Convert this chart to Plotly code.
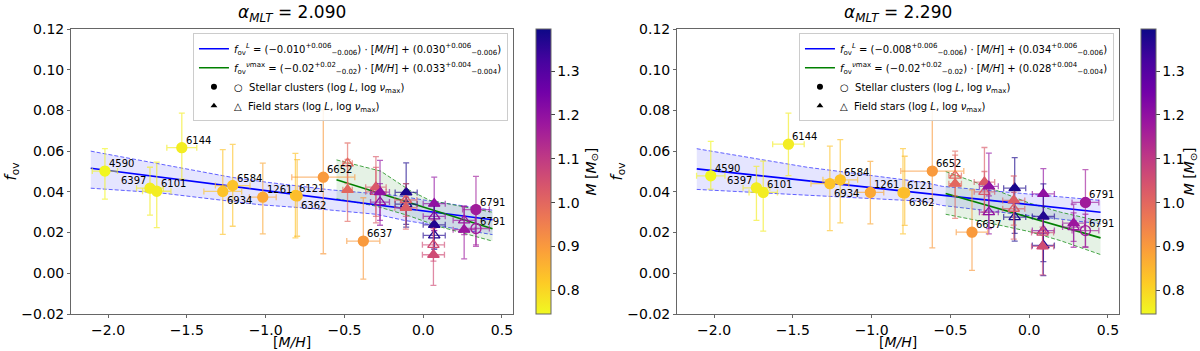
import plotly.graph_objects as go
import plotly.express as px
from plotly.colors import sample_colorscale

# mass colour scale
CMIN, CMAX = 0.746, 1.396
SCALE = px.colors.sequential.Plasma_r
MASS_TICKS = [0.8, 0.9, 1.0, 1.1, 1.2, 1.3]

TITLES = ["2.090", "2.290"]

# stellar clusters (log L, filled circles)
CL_NAMES = ["4590", "6397", "6101", "6144", "6934", "6584", "1261", "6121", "6362", "6652", "6637", "6791"]
CL_MASS = [0.75, 0.765, 0.765, 0.765, 0.83, 0.83, 0.875, 0.83, 0.84, 0.9, 0.9, 1.17]

L_CL_X = [-2.02, -1.734, -1.691, -1.532, -1.272, -1.209, -1.018, -0.811, -0.80, -0.634, -0.38, 0.335]
L_CL_Y = [0.0502, 0.0418, 0.0403, 0.0617, 0.0402, 0.0431, 0.0374, 0.0382, 0.0380, 0.0472, 0.0158, 0.0313]
L_CL_YP = [0.011, 0.0103, 0.0143, 0.017, 0.0205, 0.0202, 0.0167, 0.0207, 0.0178, 0.033, 0.0213, 0.0163]
L_CL_YM = [0.0138, 0.0132, 0.0179, 0.0155, 0.0211, 0.0200, 0.018, 0.0208, 0.0198, 0.0376, 0.0187, 0.0181]
L_CL_XERR = [0.08, 0.085, 0.09, 0.095, 0.12, 0.11, 0.085, 0.02, 0.02, 0.2, 0.105, 0.085]

R_CL_X = [-2.021, -1.731, -1.688, -1.528, -1.265, -1.199, -1.008, -0.801, -0.79, -0.615, -0.363, 0.357]
R_CL_Y = [0.0479, 0.042, 0.0397, 0.0634, 0.044, 0.0459, 0.0397, 0.0396, 0.0395, 0.0502, 0.0202, 0.0348]
R_CL_YP = [0.0169, 0.0105, 0.0154, 0.0153, 0.0185, 0.0198, 0.0153, 0.0216, 0.018, 0.032, 0.0208, 0.0161]
R_CL_YM = [0.0066, 0.016, 0.019, 0.0154, 0.023, 0.0211, 0.0154, 0.0202, 0.016, 0.0377, 0.0188, 0.022]
R_CL_XERR = [0.09, 0.085, 0.09, 0.1, 0.12, 0.11, 0.085, 0.02, 0.02, 0.2, 0.1, 0.085]

# NGC 6791 from nu_max (open circle)
OPEN_CL_NAME = "6791"
OPEN_CL_MASS = 1.17
L_OPEN_CL = (0.335, 0.022, 0.008)
R_OPEN_CL = (0.357, 0.021, 0.008)

# field stars (filled: log L, open: log nu_max)
FS_MASS = [1.00, 1.03, 1.20, 1.38, 1.02, 1.20, 1.37, 1.06, 1.18]

L_FS_X = [-0.48, -0.30, -0.274, -0.108, -0.11, 0.07, 0.07, 0.065, 0.26]
L_FS_Y = [0.041, 0.0423, 0.0399, 0.0397, 0.0322, 0.0342, 0.0238, 0.0091, 0.0214]
L_FS_YP = [0.015, 0.015, 0.0156, 0.0145, 0.0055, 0.013, 0.0105, 0.017, 0.0114]
L_FS_YM = [0.0155, 0.0175, 0.0163, 0.017, 0.0105, 0.0132, 0.012, 0.015, 0.0143]
L_FS_OPEN_Y = [0.054, 0.040, 0.035, 0.034, 0.036, 0.028, 0.0186, 0.014, 0.026]
L_FS_OPEN_ERR = [0.010, 0.012, 0.009, 0.010, 0.008, 0.007, 0.006, 0.008, 0.007]
L_FS_XERR = [0.03, 0.065, 0.06, 0.07, 0.07, 0.07, 0.07, 0.07, 0.07]

R_FS_X = [-0.47, -0.284, -0.256, -0.092, -0.098, 0.09, 0.09, 0.085, 0.282]
R_FS_Y = [0.044, 0.0448, 0.0427, 0.0418, 0.0358, 0.039, 0.0279, 0.0132, 0.0246]
R_FS_YP = [0.016, 0.017, 0.0163, 0.015, 0.012, 0.0124, 0.016, 0.0095, 0.0094]
R_FS_YM = [0.017, 0.016, 0.0233, 0.026, 0.019, 0.0114, 0.029, 0.014, 0.0118]
R_FS_OPEN_Y = [0.048, 0.040, 0.030, 0.0276, 0.0317, 0.021, 0.0137, 0.020, 0.0227]
R_FS_OPEN_ERR = [0.010, 0.010, 0.008, 0.008, 0.008, 0.007, 0.008, 0.008, 0.007]
R_FS_XERR = [0.04, 0.065, 0.06, 0.07, 0.07, 0.07, 0.07, 0.07, 0.07]

# fits and their bands
L_BLUE_X = [-2.11, 0.44]
L_BLUE_Y = [0.0516, 0.0263]
L_BLUE_UP_X = [-2.11, -1.22, -1.0, -0.59, -0.17, 0.02, 0.44]
L_BLUE_UP_Y = [0.060, 0.0472, 0.0448, 0.041, 0.0382, 0.0358, 0.031]
L_BLUE_LO_X = [-2.11, -1.67, -1.04, -0.65, -0.3, -0.12, 0.44]
L_BLUE_LO_Y = [0.0418, 0.0395, 0.0337, 0.0315, 0.029, 0.026, 0.019]
L_GREEN_X = [-0.55, 0.44]
L_GREEN_Y = [0.0459, 0.0219]
L_GREEN_UP_X = [-0.55, -0.27, -0.085, 0.043, 0.44]
L_GREEN_UP_Y = [0.0557, 0.0502, 0.0407, 0.0358, 0.030]
L_GREEN_LO_X = [-0.55, -0.3, -0.1, 0.1, 0.44]
L_GREEN_LO_Y = [0.0366, 0.033, 0.0285, 0.023, 0.0158]

R_BLUE_X = [-2.11, 0.453]
R_BLUE_Y = [0.0513, 0.030]
R_BLUE_UP_X = [-2.11, -1.41, -0.68, -0.55, 0.453]
R_BLUE_UP_Y = [0.0612, 0.0521, 0.0448, 0.0427, 0.0358]
R_BLUE_LO_X = [-2.11, -1.58, -0.68, -0.55, 0.453]
R_BLUE_LO_Y = [0.0412, 0.039, 0.0354, 0.0333, 0.0243]
R_GREEN_X = [-0.53, 0.453]
R_GREEN_Y = [0.0392, 0.0174]
R_GREEN_UP_X = [-0.53, -0.3, 0.0, 0.2, 0.453]
R_GREEN_UP_Y = [0.050, 0.0435, 0.0345, 0.030, 0.0255]
R_GREEN_LO_X = [-0.53, -0.3, 0.0, 0.2, 0.453]
R_GREEN_LO_Y = [0.029, 0.0255, 0.0205, 0.016, 0.0092]

FIT_L = ["(−0.010<sup>+0.006</sup><sub>−0.006</sub>) · [<i>M/H</i>] + (0.030<sup>+0.006</sup><sub>−0.006</sub>)",
         "(−0.008<sup>+0.006</sup><sub>−0.006</sub>) · [<i>M/H</i>] + (0.034<sup>+0.006</sup><sub>−0.006</sub>)"]
FIT_NU = ["(−0.02<sup>+0.02</sup><sub>−0.02</sub>) · [<i>M/H</i>] + (0.033<sup>+0.004</sup><sub>−0.004</sub>)",
          "(−0.02<sup>+0.02</sup><sub>−0.02</sub>) · [<i>M/H</i>] + (0.028<sup>+0.004</sup><sub>−0.004</sub>)"]

# label placement (xanchor, yanchor) per cluster
LABEL_POS = {"6397": ("right", "bottom"), "6934": ("left", "top"), "6362": ("left", "top")}

FONT = "DejaVu Sans, sans-serif"


def mass_color(m, alpha=None):
    c = sample_colorscale(SCALE, [(m - CMIN) / (CMAX - CMIN)])[0]
    if alpha is None:
        return c
    return c.replace("rgb(", "rgba(").replace(")", f", {alpha})")


def err_point(fig, x, y, yp, ym, xe, m, symbol, ax, size=10):
    ec = mass_color(m, 0.65)
    fig.add_trace(go.Scatter(
        x=[x], y=[y], mode="markers", xaxis=ax[0], yaxis=ax[1],
        marker=dict(size=size, color=mass_color(m), symbol=symbol, line=dict(width=1.3, color=mass_color(m))),
        error_y=dict(type="data", symmetric=False, array=[yp], arrayminus=[ym], color=ec, thickness=1.3, width=3),
        error_x=dict(type="data", array=[xe], color=ec, thickness=1.3, width=3),
        showlegend=False, hoverinfo="skip"))


def band(fig, ux, uy, lx, ly, fill, edge, ax):
    fig.add_trace(go.Scatter(x=ux + lx[::-1], y=uy + ly[::-1], fill="toself", fillcolor=fill,
                             mode="lines", line=dict(width=0), xaxis=ax[0], yaxis=ax[1],
                             showlegend=False, hoverinfo="skip"))
    for xs, ys in ((ux, uy), (lx, ly)):
        fig.add_trace(go.Scatter(x=xs, y=ys, mode="lines", line=dict(color=edge, width=1, dash="4px,2px"),
                                 xaxis=ax[0], yaxis=ax[1], showlegend=False, hoverinfo="skip"))


fig = go.Figure()

panels = [
    dict(ax=("x", "y"), leg="legend", cax="coloraxis",
         cl=(L_CL_X, L_CL_Y, L_CL_YP, L_CL_YM, L_CL_XERR), ocl=L_OPEN_CL,
         fs=(L_FS_X, L_FS_Y, L_FS_YP, L_FS_YM, L_FS_OPEN_Y, L_FS_OPEN_ERR, L_FS_XERR),
         blue=(L_BLUE_X, L_BLUE_Y, L_BLUE_UP_X, L_BLUE_UP_Y, L_BLUE_LO_X, L_BLUE_LO_Y),
         green=(L_GREEN_X, L_GREEN_Y, L_GREEN_UP_X, L_GREEN_UP_Y, L_GREEN_LO_X, L_GREEN_LO_Y)),
    dict(ax=("x2", "y2"), leg="legend2", cax="coloraxis2",
         cl=(R_CL_X, R_CL_Y, R_CL_YP, R_CL_YM, R_CL_XERR), ocl=R_OPEN_CL,
         fs=(R_FS_X, R_FS_Y, R_FS_YP, R_FS_YM, R_FS_OPEN_Y, R_FS_OPEN_ERR, R_FS_XERR),
         blue=(R_BLUE_X, R_BLUE_Y, R_BLUE_UP_X, R_BLUE_UP_Y, R_BLUE_LO_X, R_BLUE_LO_Y),
         green=(R_GREEN_X, R_GREEN_Y, R_GREEN_UP_X, R_GREEN_UP_Y, R_GREEN_LO_X, R_GREEN_LO_Y)),
]

annotations = []
for i, p in enumerate(panels):
    ax = p["ax"]
    bx, by, bux, buy, blx, bly = p["blue"]
    gx, gy, gux, guy, glx, gly = p["green"]
    band(fig, bux, buy, blx, bly, "rgba(0,0,255,0.1)", "rgba(70,70,255,0.85)", ax)
    band(fig, gux, guy, glx, gly, "rgba(0,128,0,0.1)", "rgba(40,150,40,0.85)", ax)
    fig.add_trace(go.Scatter(x=bx, y=by, mode="lines", line=dict(color="#0000ff", width=1.6),
                             xaxis=ax[0], yaxis=ax[1], legend=p["leg"],
                             name="<i>f</i><sub>ov</sub><sup><i>L</i></sup> = " + FIT_L[i]))
    fig.add_trace(go.Scatter(x=gx, y=gy, mode="lines", line=dict(color="#008000", width=1.6),
                             xaxis=ax[0], yaxis=ax[1], legend=p["leg"],
                             name="<i>f</i><sub>ov</sub><sup><i>ν</i>max</sup> = " + FIT_NU[i]))
    fig.add_trace(go.Scatter(x=[None], y=[None], mode="markers", legend=p["leg"], xaxis=ax[0], yaxis=ax[1],
                             marker=dict(symbol="circle", color="black", size=6),
                             name="○  Stellar clusters (log <i>L</i>, log <i>ν</i><sub>max</sub>)"))
    fig.add_trace(go.Scatter(x=[None], y=[None], mode="markers", legend=p["leg"], xaxis=ax[0], yaxis=ax[1],
                             marker=dict(symbol="triangle-up", color="black", size=6),
                             name="△  Field stars (log <i>L</i>, log <i>ν</i><sub>max</sub>)"))

    # field stars
    fx, fy, fyp, fym, foy, foe, fxe = p["fs"]
    for j in range(len(fx)):
        err_point(fig, fx[j], foy[j], foe[j], foe[j], fxe[j], FS_MASS[j], "triangle-up-open", ax)
        err_point(fig, fx[j], fy[j], fyp[j], fym[j], fxe[j], FS_MASS[j], "triangle-up", ax)

    # clusters
    cx, cy, cyp, cym, cxe = p["cl"]
    ox, oy, oe = p["ocl"]
    err_point(fig, ox, oy, oe, oe, cxe[-1], OPEN_CL_MASS, "circle-open", ax)
    for j in range(len(cx)):
        err_point(fig, cx[j], cy[j], cyp[j], cym[j], cxe[j], CL_MASS[j], "circle", ax)

    # colour-mapped markers carrying the colour bar
    fig.add_trace(go.Scatter(x=cx, y=cy, mode="markers", xaxis=ax[0], yaxis=ax[1], showlegend=False,
                             marker=dict(size=10, color=CL_MASS, coloraxis=p["cax"])))
    fig.add_trace(go.Scatter(x=fx, y=fy, mode="markers", xaxis=ax[0], yaxis=ax[1], showlegend=False,
                             marker=dict(size=10, symbol="triangle-up", color=FS_MASS, coloraxis=p["cax"])))

    # labels
    for j, name in enumerate(CL_NAMES):
        xa, ya = LABEL_POS.get(name, ("left", "bottom"))
        annotations.append(dict(x=cx[j], y=cy[j], xref=ax[0], yref=ax[1], text=name, showarrow=False,
                                xanchor=xa, yanchor=ya, xshift=2 if xa == "left" else -2,
                                yshift=-2 if ya == "top" else 0,
                                font=dict(size=10, color="black", family=FONT)))
    annotations.append(dict(x=ox, y=oy, xref=ax[0], yref=ax[1], text=OPEN_CL_NAME, showarrow=False,
                            xanchor="left", yanchor="bottom", xshift=2,
                            font=dict(size=10, color="black", family=FONT)))

# panel geometry (paper coordinates)
X_DOM = [[0.0592, 0.4275], [0.5642, 0.9325]]
X_RANGE = [[-2.235, 0.57], [-2.235, 0.57]]
CB_X = [0.4467, 0.951]
CB_TITLE_X = [0.4925, 0.9915]
LEG_X = [0.4233, 0.9283]

for i in range(2):
    cx0 = (X_DOM[i][0] + X_DOM[i][1]) / 2
    annotations.append(dict(x=cx0, y=1.055, xref="paper", yref="paper", showarrow=False,
                            text=f"<i>α</i><sub><i>MLT</i></sub> = {TITLES[i]}",
                            font=dict(size=17, color="black", family=FONT), xanchor="center", yanchor="middle"))
    annotations.append(dict(x=cx0, y=-0.099, xref="paper", yref="paper", showarrow=False, borderpad=0,
                            text="[<i>M/H</i>]", font=dict(size=14, color="black", family=FONT),
                            xanchor="center", yanchor="middle"))
    annotations.append(dict(x=X_DOM[i][0] - 0.05, y=0.5, xref="paper", yref="paper", showarrow=False,
                            text="<i>f</i><sub>ov</sub>", textangle=-90,
                            font=dict(size=15, color="black", family=FONT), xanchor="center", yanchor="middle"))
    annotations.append(dict(x=CB_TITLE_X[i], y=0.5, xref="paper", yref="paper", showarrow=False,
                            text="<i>M</i> [<i>M</i><sub>⊙</sub>]", textangle=-90,
                            font=dict(size=14, color="black", family=FONT), xanchor="center", yanchor="middle"))

axis_common = dict(showline=True, mirror=True, linecolor="#666666", linewidth=1, ticks="outside",
                   ticklen=3, tickcolor="#666666", showgrid=False, zeroline=False,
                   tickfont=dict(size=14, color="black", family=FONT))

colorbar_common = dict(thickness=15, len=1, lenmode="fraction", y=0.5, yanchor="middle", xanchor="left",
                       xpad=0, ypad=0, outlinewidth=1, outlinecolor="#666666", ticks="outside", ticklen=3.5,
                       tickvals=MASS_TICKS, tickformat=".1f", tickfont=dict(size=14, color="black", family=FONT))

legend_common = dict(xanchor="right", y=0.985, yanchor="top", bgcolor="rgba(255,255,255,0.85)",
                     bordercolor="#cccccc", borderwidth=1, font=dict(size=10, color="black", family=FONT),
                     itemwidth=30, tracegroupgap=0)

fig.update_layout(
    width=1200, height=351,
    margin=dict(l=0, r=0, t=29, b=37),
    paper_bgcolor="white", plot_bgcolor="white",
    font=dict(family=FONT, color="black"),
    xaxis=dict(domain=X_DOM[0], range=X_RANGE[0], anchor="y", tickvals=[-2.0, -1.5, -1.0, -0.5, 0.0, 0.5],
               tickformat=".1f", **axis_common),
    yaxis=dict(domain=[0, 1], range=[-0.02, 0.12], anchor="x", tickvals=[-0.02, 0, 0.02, 0.04, 0.06, 0.08, 0.10, 0.12],
               tickformat=".2f", **axis_common),
    xaxis2=dict(domain=X_DOM[1], range=X_RANGE[1], anchor="y2", tickvals=[-2.0, -1.5, -1.0, -0.5, 0.0, 0.5],
                tickformat=".1f", **axis_common),
    yaxis2=dict(domain=[0, 1], range=[-0.02, 0.12], anchor="x2", tickvals=[-0.02, 0, 0.02, 0.04, 0.06, 0.08, 0.10, 0.12],
                tickformat=".2f", **axis_common),
    coloraxis=dict(colorscale=SCALE, cmin=CMIN, cmax=CMAX, colorbar=dict(x=CB_X[0], **colorbar_common)),
    coloraxis2=dict(colorscale=SCALE, cmin=CMIN, cmax=CMAX, colorbar=dict(x=CB_X[1], **colorbar_common)),
    legend=dict(x=LEG_X[0], **legend_common),
    legend2=dict(x=LEG_X[1], **legend_common),
    annotations=annotations,
)

# drop the page's default 8px body margin so the figure fills the window
fig.write_html("out.html", config={"displayModeBar": False},
               post_script="document.body.style.margin='0';document.body.style.overflow='hidden';")
